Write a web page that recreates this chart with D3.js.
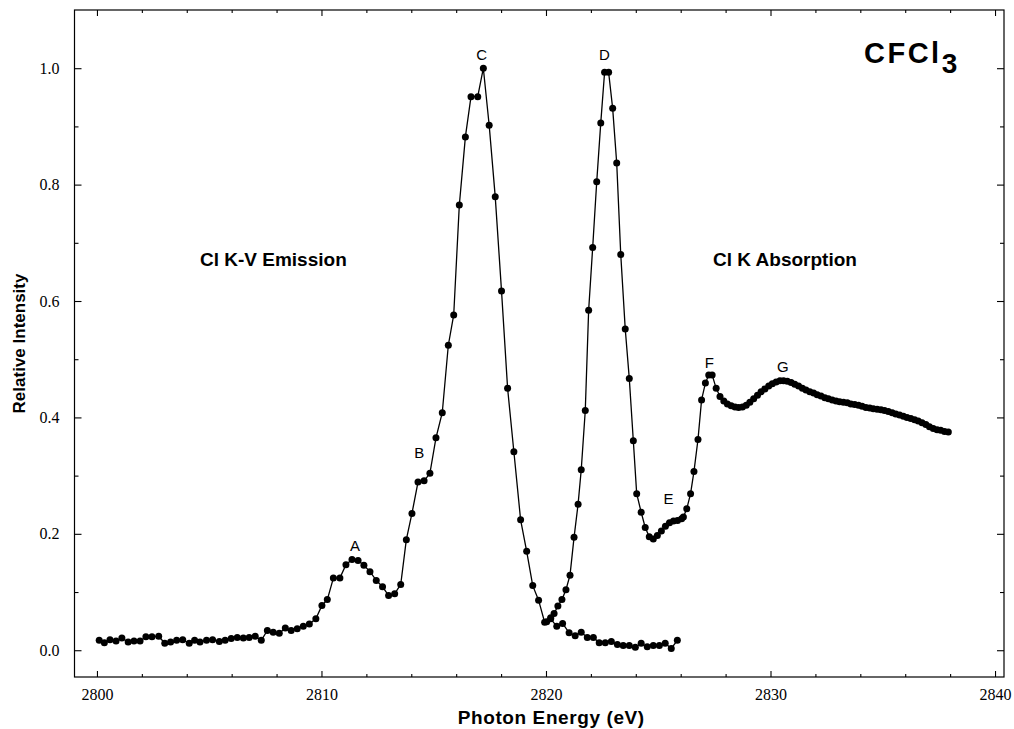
<!DOCTYPE html>
<html>
<head>
<meta charset="utf-8">
<script src="https://cdn.jsdelivr.net/npm/d3@7"></script>
<style>
  html, body { margin: 0; padding: 0; background: #fff; }
  svg { display: block; }
</style>
</head>
<body>
<svg id="chart" width="1014" height="729"></svg>
<script>
// ---- data ----
const emissionEnergy = [2800.10,2800.33,2800.58,2800.85,2801.11,2801.39,2801.65,2801.92,2802.18,2802.45,2802.75,2803.02,2803.28,2803.55,2803.82,2804.11,2804.35,2804.59,2804.88,2805.15,2805.45,2805.71,2805.98,2806.25,2806.52,2806.78,2807.05,2807.32,2807.59,2807.85,2808.12,2808.39,2808.65,2808.92,2809.19,2809.46,2809.75,2810.02,2810.26,2810.53,2810.82,2811.09,2811.36,2811.63,2811.89,2812.16,2812.44,2812.72,2812.99,2813.26,2813.53,2813.78,2814.03,2814.30,2814.57,2814.83,2815.10,2815.38,2815.65,2815.89,2816.14,2816.41,2816.66,2816.96,2817.21,2817.47,2817.74,2818.02,2818.29,2818.57,2818.87,2819.14,2819.41,2819.67,2819.94,2820.21,2820.48,2820.74,2821.03,2821.30,2821.57,2821.84,2822.11,2822.37,2822.64,2822.91,2823.18,2823.44,2823.71,2823.98,2824.24,2824.51,2824.78,2825.05,2825.31,2825.58,2825.85];
const emissionIntensity = [0.017,0.013,0.018,0.016,0.021,0.014,0.016,0.016,0.023,0.023,0.024,0.012,0.014,0.017,0.018,0.012,0.017,0.014,0.017,0.018,0.015,0.017,0.020,0.022,0.021,0.022,0.024,0.017,0.034,0.031,0.029,0.038,0.034,0.037,0.041,0.045,0.054,0.077,0.087,0.124,0.124,0.147,0.156,0.154,0.146,0.135,0.120,0.109,0.094,0.097,0.113,0.190,0.235,0.289,0.291,0.304,0.365,0.408,0.524,0.576,0.765,0.882,0.951,0.951,1.000,0.902,0.779,0.617,0.450,0.341,0.224,0.170,0.111,0.086,0.048,0.054,0.041,0.046,0.030,0.025,0.031,0.022,0.022,0.013,0.013,0.015,0.010,0.008,0.008,0.005,0.012,0.006,0.008,0.008,0.012,0.003,0.017];

const absorptionEnergy = [2820.03,2820.21,2820.36,2820.53,2820.71,2820.89,2821.07,2821.25,2821.43,2821.57,2821.75,2821.90,2822.08,2822.26,2822.44,2822.61,2822.79,2822.97,2823.15,2823.33,2823.53,2823.71,2823.89,2824.04,2824.24,2824.42,2824.60,2824.78,2824.96,2825.14,2825.32,2825.50,2825.68,2825.86,2826.04,2826.12,2826.27,2826.44,2826.59,2826.77,2826.93,2827.10,2827.25,2827.40,2827.58,2827.75,2827.92,2828.08,2828.25,2828.42,2828.58,2828.75,2828.92,2829.08,2829.25,2829.42,2829.58,2829.75,2829.92,2830.08,2830.25,2830.42,2830.58,2830.75,2830.92,2831.08,2831.25,2831.42,2831.58,2831.75,2831.92,2832.08,2832.25,2832.42,2832.58,2832.75,2832.92,2833.08,2833.25,2833.42,2833.58,2833.75,2833.92,2834.08,2834.25,2834.42,2834.58,2834.75,2834.92,2835.08,2835.25,2835.42,2835.58,2835.75,2835.92,2836.08,2836.25,2836.42,2836.58,2836.75,2836.92,2837.08,2837.25,2837.42,2837.58,2837.75,2837.92];
const absorptionIntensity = [0.049,0.056,0.063,0.076,0.087,0.104,0.129,0.194,0.251,0.310,0.412,0.584,0.692,0.805,0.906,0.993,0.993,0.931,0.837,0.680,0.552,0.467,0.360,0.269,0.237,0.211,0.195,0.191,0.197,0.205,0.213,0.219,0.222,0.223,0.226,0.229,0.243,0.269,0.307,0.362,0.430,0.459,0.473,0.473,0.450,0.436,0.428,0.423,0.420,0.418,0.417,0.418,0.421,0.426,0.432,0.438,0.444,0.449,0.454,0.458,0.461,0.463,0.463,0.462,0.460,0.457,0.454,0.450,0.447,0.444,0.442,0.439,0.437,0.434,0.432,0.430,0.428,0.427,0.426,0.425,0.423,0.422,0.421,0.419,0.417,0.416,0.415,0.414,0.413,0.412,0.410,0.408,0.406,0.404,0.402,0.400,0.398,0.396,0.394,0.391,0.388,0.384,0.381,0.379,0.378,0.376,0.375];

const peakLabels = ["A","B","C","D","E","F","G"];
const peakLabelEnergy = [2811.49,2814.36,2817.14,2822.60,2825.46,2827.28,2830.55];
const peakLabelIntensity = [0.179,0.339,1.023,1.023,0.261,0.494,0.487];

const xMajorTicks = [2800,2810,2820,2830,2840];
const xMinorTicks = [2802,2804,2806,2808,2812,2814,2816,2818,2822,2824,2826,2828,2832,2834,2836,2838];
const yMajorTicks = [0,0.2,0.4,0.6,0.8,1.0];
const yMinorTicks = [0.1,0.3,0.5,0.7,0.9];

const regionLabels = ["Cl K-V Emission","Cl K Absorption"];
const regionLabelEnergy = [2804.59,2827.44];
const regionLabelIntensity = [0.661,0.661];

// ---- layout ----
const svg = d3.select("#chart");
const L = 74.5, R = 1004, T = 10, B = 677;
const x = d3.scaleLinear().domain([2799, 2840.4]).range([L, R]);
const y = d3.scaleLinear().domain([-0.046, 1.1]).range([B, T]);

const sans = "'Liberation Sans', Arial, Helvetica, sans-serif";
const serif = "'Liberation Serif', 'Times New Roman', serif";

// frame
svg.append("rect").attr("x", L).attr("y", T).attr("width", R - L).attr("height", B - T)
  .attr("fill", "none").attr("stroke", "#000").attr("stroke-width", 1.2);

// axes (ticks inward)
function styleAxis(g) {
  g.select(".domain").remove();
  g.selectAll(".tick line").attr("stroke", "#000").attr("stroke-width", 1.1);
}
const fmtY = d3.format(".1f");
svg.append("g").attr("transform", `translate(0,${B})`)
  .call(d3.axisBottom(x).tickValues(xMajorTicks).tickSizeInner(-6).tickSizeOuter(0).tickPadding(12).tickFormat(d3.format("d")))
  .call(styleAxis)
  .call(g => g.selectAll("text").attr("font-family", serif).attr("font-size", 16).attr("fill", "#000"));
svg.append("g").attr("transform", `translate(0,${B})`)
  .call(d3.axisBottom(x).tickValues(xMinorTicks).tickSizeInner(-3).tickSizeOuter(0).tickFormat(""))
  .call(styleAxis);
svg.append("g").attr("transform", `translate(0,${T})`)
  .call(d3.axisTop(x).tickValues(xMajorTicks).tickSizeInner(-6).tickSizeOuter(0).tickFormat(""))
  .call(styleAxis);
svg.append("g").attr("transform", `translate(0,${T})`)
  .call(d3.axisTop(x).tickValues(xMinorTicks).tickSizeInner(-3).tickSizeOuter(0).tickFormat(""))
  .call(styleAxis);

svg.append("g").attr("transform", `translate(${L},0)`)
  .call(d3.axisLeft(y).tickValues(yMajorTicks).tickSizeInner(-7).tickSizeOuter(0).tickPadding(15).tickFormat(fmtY))
  .call(styleAxis)
  .call(g => g.selectAll("text").attr("font-family", serif).attr("font-size", 16).attr("fill", "#000"));
svg.append("g").attr("transform", `translate(${L},0)`)
  .call(d3.axisLeft(y).tickValues(yMinorTicks).tickSizeInner(-4).tickSizeOuter(0).tickFormat(""))
  .call(styleAxis);
svg.append("g").attr("transform", `translate(${R},0)`)
  .call(d3.axisRight(y).tickValues(yMajorTicks).tickSizeInner(-7).tickSizeOuter(0).tickFormat(""))
  .call(styleAxis);
svg.append("g").attr("transform", `translate(${R},0)`)
  .call(d3.axisRight(y).tickValues(yMinorTicks).tickSizeInner(-4).tickSizeOuter(0).tickFormat(""))
  .call(styleAxis);

// series
const emission = emissionEnergy.map((e, i) => ({e, v: emissionIntensity[i]}));
const absorption = absorptionEnergy.map((e, i) => ({e, v: absorptionIntensity[i]}));
const line = d3.line().x(d => x(d.e)).y(d => y(d.v));

[emission, absorption].forEach(series => {
  svg.append("path").datum(series).attr("d", line)
    .attr("fill", "none").attr("stroke", "#000").attr("stroke-width", 1.3);
  svg.append("g").selectAll("circle").data(series).join("circle")
    .attr("cx", d => x(d.e)).attr("cy", d => y(d.v)).attr("r", 3.5).attr("fill", "#000");
});

// peak labels
svg.append("g").selectAll("text").data(peakLabels).join("text")
  .attr("x", (d, i) => x(peakLabelEnergy[i]))
  .attr("y", (d, i) => y(peakLabelIntensity[i]))
  .attr("dy", "0.36em")
  .attr("text-anchor", "middle")
  .attr("font-family", sans).attr("font-size", 15).attr("fill", "#000")
  .text(d => d);

// region labels
svg.append("g").selectAll("text").data(regionLabels).join("text")
  .attr("x", (d, i) => x(regionLabelEnergy[i]))
  .attr("y", (d, i) => y(regionLabelIntensity[i]))
  .attr("font-family", sans).attr("font-size", 19).attr("font-weight", "bold").attr("fill", "#000")
  .text(d => d);

// title
const title = svg.append("text").attr("x", 864).attr("y", 63)
  .attr("font-family", sans).attr("font-size", 29).attr("font-weight", "bold")
  .attr("letter-spacing", 2.5).attr("fill", "#000");
title.append("tspan").text("CFCl");
title.append("tspan").attr("dy", 10).attr("font-size", 28).text("3");

// axis titles
svg.append("text").attr("x", (L + R) / 2 + 12).attr("y", 724)
  .attr("text-anchor", "middle").attr("font-family", sans).attr("font-size", 19).attr("font-weight", "bold")
  .attr("letter-spacing", 0.6).text("Photon Energy  (eV)");
svg.append("text").attr("transform", `translate(25,${(T + B) / 2}) rotate(-90)`)
  .attr("text-anchor", "middle").attr("font-family", sans).attr("font-size", 17).attr("font-weight", "bold")
  .text("Relative Intensity");
</script>
</body>
</html>
